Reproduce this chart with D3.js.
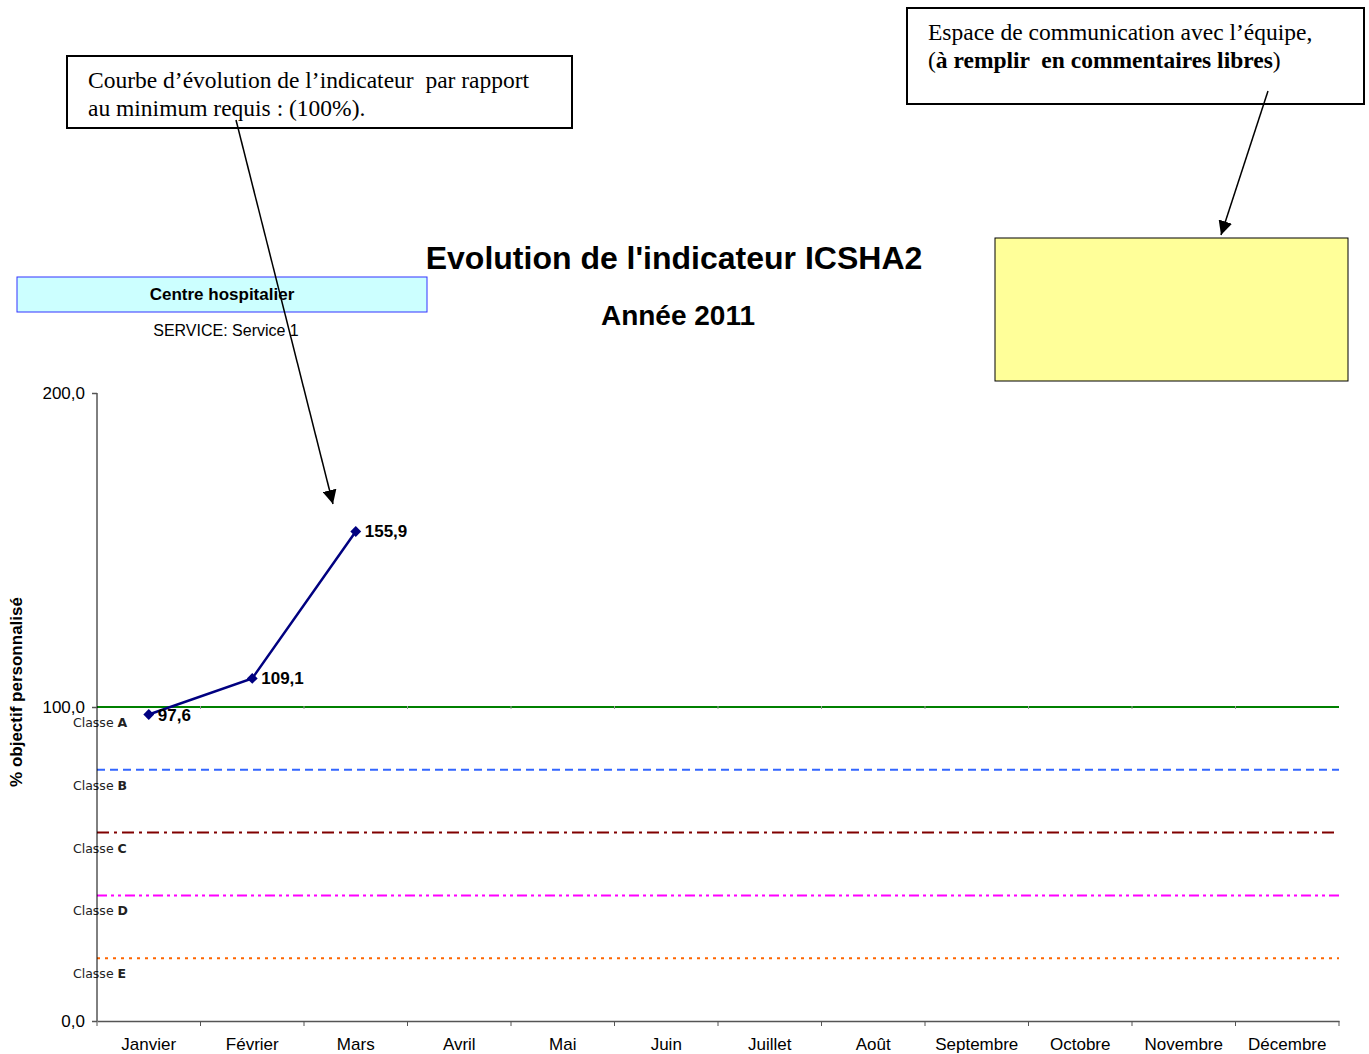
<!DOCTYPE html>
<html>
<head>
<meta charset="utf-8">
<script src="https://cdn.jsdelivr.net/npm/d3@7"></script>
<style>
  body { margin: 0; background: #fff; }
  svg { display: block; }
  text { white-space: pre; }
</style>
</head>
<body>
<svg id="chart" width="1369" height="1054"></svg>
<script>
const months = ['Janvier', 'Février', 'Mars', 'Avril', 'Mai', 'Juin', 'Juillet', 'Août',
    'Septembre', 'Octobre', 'Novembre', 'Décembre']
const values = [97.6, 109.1, 155.9, null, null, null, null, null, null, null, null, null]
const classLetters = ['A', 'B', 'C', 'D', 'E']
const classLevels = [100, 80, 60, 40, 20]
const yTicks = [0, 100, 200]

const svg = d3.select('#chart')
const plotLeft = 97, plotRight = 1339, plotTop = 393, plotBottom = 1021

const x = d3.scaleBand().domain(months).range([plotLeft, plotRight])
const y = d3.scaleLinear().domain([0, 200]).range([plotBottom, plotTop])
const fmt = v => d3.format('.1f')(v).replace('.', ',')

// class threshold lines
const classStyles = [
    {color: '#008000', dash: null},
    {color: '#3366ff', dash: '8,5'},
    {color: '#800000', dash: '12,5,3,5'},
    {color: '#ff00ff', dash: '10,4,3,4,3,4'},
    {color: '#ff6600', dash: '3,5'}
]
svg.selectAll('.classline')
    .data(classLevels)
    .enter()
    .append('line')
    .attr('x1', plotLeft).attr('x2', plotRight)
    .attr('y1', d => y(d)).attr('y2', d => y(d))
    .attr('stroke', (d, i) => classStyles[i].color)
    .attr('stroke-width', 2)
    .attr('stroke-dasharray', (d, i) => classStyles[i].dash)

// small gray marks on the 100 line
svg.selectAll('.mark100')
    .data(months.slice(1))
    .enter()
    .append('line')
    .attr('x1', d => x(d)).attr('x2', d => x(d))
    .attr('y1', y(100) - 1).attr('y2', y(100) + 2)
    .attr('stroke', '#999').attr('stroke-width', 1)

const classLabels = svg.selectAll('.classlabel')
    .data(classLevels)
    .enter()
    .append('text')
    .attr('x', 73)
    .attr('y', d => y(d) + 20)
    .attr('font-family', 'DejaVu Sans, Verdana, sans-serif')
    .attr('font-size', 12.5)
    .attr('fill', '#222')
classLabels.append('tspan').text('Classe ')
classLabels.append('tspan').attr('font-weight', 'bold').text((d, i) => classLetters[i])

// axes
const xAxis = svg.append('g')
    .attr('transform', `translate(0,${plotBottom})`)
    .call(d3.axisBottom(x).tickSize(0).tickPadding(17))
xAxis.select('.domain').attr('stroke', '#555').attr('stroke-width', 1.5)
xAxis.selectAll('text')
    .attr('font-family', 'Arial, Liberation Sans, sans-serif')
    .attr('font-size', 17).attr('fill', '#000')
xAxis.selectAll('.bound')
    .data(months.concat(['end']))
    .enter()
    .append('line')
    .attr('x1', (d, i) => plotLeft + i * x.bandwidth())
    .attr('x2', (d, i) => plotLeft + i * x.bandwidth())
    .attr('y1', 0).attr('y2', 5)
    .attr('stroke', '#555')

const yAxis = svg.append('g')
    .attr('transform', `translate(${plotLeft},0)`)
    .call(d3.axisLeft(y).tickValues(yTicks).tickFormat(fmt).tickSize(5).tickPadding(7))
yAxis.select('.domain').attr('stroke', '#000').attr('d', `M0,${plotTop}V${plotBottom}`)
yAxis.selectAll('.tick line').attr('stroke', '#555').attr('stroke-width', 1.5)
yAxis.selectAll('text')
    .attr('font-family', 'Arial, Liberation Sans, sans-serif')
    .attr('font-size', 17).attr('fill', '#000')

svg.append('text')
    .attr('transform', `translate(22,${692}) rotate(-90)`)
    .attr('text-anchor', 'middle')
    .attr('font-family', 'Arial, Liberation Sans, sans-serif')
    .attr('font-weight', 'bold').attr('font-size', 17)
    .text('% objectif personnalisé')

// data line
const points = months.map((m, i) => ({m: m, v: values[i]})).filter(d => d.v !== null)
const line = d3.line()
    .x(d => x(d.m) + x.bandwidth() / 2)
    .y(d => y(d.v))
svg.append('path')
    .datum(points)
    .attr('d', line)
    .attr('fill', 'none')
    .attr('stroke', '#000080')
    .attr('stroke-width', 2.5)
svg.selectAll('.pt')
    .data(points)
    .enter()
    .append('path')
    .attr('d', d3.symbol().type(d3.symbolDiamond2).size(75))
    .attr('transform', d => `translate(${x(d.m) + x.bandwidth() / 2},${y(d.v)})`)
    .attr('fill', '#000080')
svg.selectAll('.ptlabel')
    .data(points)
    .enter()
    .append('text')
    .attr('x', d => x(d.m) + x.bandwidth() / 2 + 9)
    .attr('y', d => y(d.v) + 6)
    .attr('font-family', 'Arial, Liberation Sans, sans-serif')
    .attr('font-weight', 'bold').attr('font-size', 17)
    .text(d => fmt(d.v))

// titles
svg.append('text')
    .attr('x', 674).attr('y', 269)
    .attr('text-anchor', 'middle')
    .attr('font-family', 'Arial, Liberation Sans, sans-serif')
    .attr('font-weight', 'bold').attr('font-size', 32)
    .text("Evolution de l'indicateur ICSHA2")
svg.append('text')
    .attr('x', 678).attr('y', 325)
    .attr('text-anchor', 'middle')
    .attr('font-family', 'Arial, Liberation Sans, sans-serif')
    .attr('font-weight', 'bold').attr('font-size', 28)
    .text('Année 2011')

// hospital box
svg.append('rect')
    .attr('x', 17).attr('y', 277).attr('width', 410).attr('height', 35)
    .attr('fill', '#ccffff').attr('stroke', '#3333ff').attr('stroke-width', 1)
svg.append('text')
    .attr('x', 222).attr('y', 300)
    .attr('text-anchor', 'middle')
    .attr('font-family', 'Arial, Liberation Sans, sans-serif')
    .attr('font-weight', 'bold').attr('font-size', 17)
    .text('Centre hospitalier')
svg.append('text')
    .attr('x', 226).attr('y', 336)
    .attr('text-anchor', 'middle')
    .attr('font-family', 'Arial, Liberation Sans, sans-serif')
    .attr('font-size', 16)
    .text('SERVICE: Service 1')

// yellow comment box
svg.append('rect')
    .attr('x', 995).attr('y', 238).attr('width', 353).attr('height', 143)
    .attr('fill', '#ffff99').attr('stroke', '#000').attr('stroke-width', 1)

// annotation boxes
svg.append('defs').append('marker')
    .attr('id', 'arrow')
    .attr('viewBox', '0 0 10 10')
    .attr('refX', 10).attr('refY', 5)
    .attr('markerWidth', 14).attr('markerHeight', 14)
    .attr('markerUnits', 'userSpaceOnUse')
    .attr('orient', 'auto')
    .append('path')
    .attr('d', 'M0,0L10,5L0,10Z')
    .attr('fill', '#000')

svg.append('rect')
    .attr('x', 67).attr('y', 56).attr('width', 505).attr('height', 72)
    .attr('fill', '#fff').attr('stroke', '#000').attr('stroke-width', 2)
const note1 = svg.append('text')
    .attr('font-family', 'Liberation Serif, Times New Roman, serif')
    .attr('font-size', 23.5)
note1.append('tspan').attr('x', 88).attr('y', 88).text('Courbe d’évolution de l’indicateur  par rapport')
note1.append('tspan').attr('x', 88).attr('y', 116).text('au minimum requis : (100%).')

svg.append('rect')
    .attr('x', 907).attr('y', 8).attr('width', 457).attr('height', 96)
    .attr('fill', '#fff').attr('stroke', '#000').attr('stroke-width', 2)
const note2 = svg.append('text')
    .attr('font-family', 'Liberation Serif, Times New Roman, serif')
    .attr('font-size', 23.5)
note2.append('tspan').attr('x', 928).attr('y', 40).text('Espace de communication avec l’équipe,')
note2.append('tspan').attr('x', 928).attr('y', 68).text('(')
note2.append('tspan').attr('font-weight', 'bold').text('à remplir  en commentaires libres')
note2.append('tspan').text(')')

svg.append('line')
    .attr('x1', 236).attr('y1', 120).attr('x2', 333).attr('y2', 504)
    .attr('stroke', '#000').attr('stroke-width', 1.5)
    .attr('marker-end', 'url(#arrow)')
svg.append('line')
    .attr('x1', 1268).attr('y1', 91).attr('x2', 1221).attr('y2', 235)
    .attr('stroke', '#000').attr('stroke-width', 1.5)
    .attr('marker-end', 'url(#arrow)')
</script>
</body>
</html>
